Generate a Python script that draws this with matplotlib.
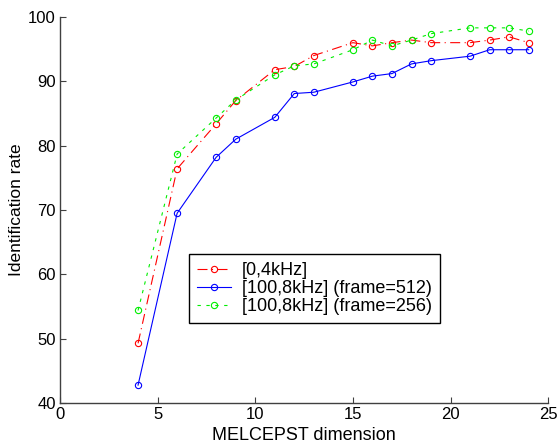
import matplotlib
matplotlib.use("Agg")
import matplotlib.pyplot as plt

plt.rcParams['font.family'] = ['Liberation Sans', 'DejaVu Sans']

dims = [4, 6, 8, 9, 11, 12, 13, 15, 16, 17, 18, 19, 21, 22, 23, 24]
rate_0_4k = [49.3, 76.4, 83.4, 87.0, 91.8, 92.3, 94.0, 96.0, 95.5, 96.0, 96.4, 96.0, 96.0, 96.4, 96.9, 96.0]
rate_100_8k_512 = [42.8, 69.5, 78.2, 81.0, 84.4, 88.1, 88.3, 89.9, 90.8, 91.2, 92.7, 93.2, 93.9, 94.9, 94.9, 94.9]
rate_100_8k_256 = [54.4, 78.7, 84.3, 87.1, 91.0, 92.4, 92.7, 94.9, 96.4, 95.5, 96.4, 97.4, 98.3, 98.3, 98.3, 97.8]
labels = ['[0,4kHz]', '[100,8kHz] (frame=512)', '[100,8kHz] (frame=256)']

fig = plt.figure(figsize=(5.6, 4.45), dpi=100)
ax = fig.add_axes([0.107, 0.094, 0.872, 0.868])

ms = 4.5
ax.plot(dims, rate_0_4k, color='#ff0000', linestyle=(0, (9, 4, 1, 4)), lw=0.8,
        marker='o', mfc='none', ms=ms, mew=0.8, label=labels[0])
ax.plot(dims, rate_100_8k_512, color='#0000ff', linestyle='-', lw=0.8,
        marker='o', mfc='none', ms=ms, mew=0.8, label=labels[1])
ax.plot(dims, rate_100_8k_256, color='#00ee00', linestyle=(0, (3, 5)), lw=0.8,
        marker='o', mfc='none', ms=ms, mew=0.8, label=labels[2])

ax.set_xlim(0, 25)
ax.set_ylim(40, 100)
ax.set_xticks([0, 5, 10, 15, 20, 25])
ax.set_yticks([40, 50, 60, 70, 80, 90, 100])
ax.spines['top'].set_visible(False)
ax.spines['right'].set_visible(False)
for s in ['left', 'bottom']:
    ax.spines[s].set_color('#404040')
    ax.spines[s].set_linewidth(1.0)
ax.tick_params(direction='in', length=4, width=0.8, labelsize=12, colors='#404040',
               labelcolor='black', pad=3)
ax.set_xlabel('MELCEPST dimension', fontsize=13, labelpad=3)
ax.set_ylabel('Identification rate', fontsize=12.5, labelpad=3)

leg = ax.legend(loc='lower left', bbox_to_anchor=(0.264, 0.207), fontsize=13,
                fancybox=False, framealpha=1, edgecolor='black', borderpad=0.45,
                labelspacing=0.05, handlelength=1.9, handletextpad=0.6, borderaxespad=0)
leg.get_frame().set_linewidth(1.0)

fig.savefig('out.png', dpi=100)
